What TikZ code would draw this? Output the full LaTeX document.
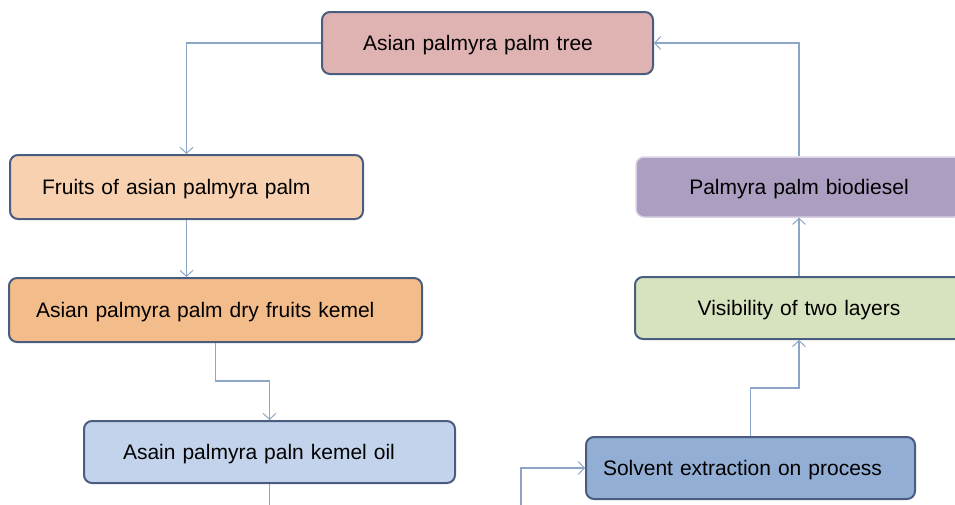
\documentclass[tikz,border=0pt]{standalone}
\usepackage{fontspec}
\setmainfont{Liberation Sans}
\usetikzlibrary{arrows.meta,calc}
\definecolor{cTree}{HTML}{E0B3B3}
\definecolor{cFruit}{HTML}{F7D1B0}
\definecolor{cKernel}{HTML}{F3BC8B}
\definecolor{cOil}{HTML}{C3D3EB}
\definecolor{cSolv}{HTML}{93AED5}
\definecolor{cVis}{HTML}{D7E3BE}
\definecolor{cBio}{HTML}{AB9EC0}
\definecolor{cBioEdge}{HTML}{D9D1E4}
\definecolor{cEdge}{HTML}{4A5D7F}
\definecolor{cConn}{HTML}{8DA5C7}
\begin{document}
\begin{tikzpicture}[x=1pt,y=-1pt,
  box/.style={draw=cEdge, line width=2pt, rounded corners=8pt, inner ysep=0pt,
    text depth=0pt, font=\fontsize{21}{25}\selectfont, text=black},
  conn/.style={draw=cConn, line width=1.2pt, -{Straight Barb[length=6pt,width=13pt,line width=1pt]}}]
\useasboundingbox (0,0) rectangle (955,504);
\clip (0,0) rectangle (955,504);
\node[box, fill=cTree, minimum height=62pt, inner xsep=41pt, text width=249pt, align=left] (tree) at (487.5,43) {Asian palmyra palm tree};
\node[box, fill=cFruit, minimum height=64pt, inner xsep=32pt, text width=289pt, align=left] (fruits) at (186.5,187) {Fruits of asian palmyra palm};
\node[box, fill=cKernel, minimum height=64pt, inner xsep=27pt, text width=359pt, align=left] (kernel) at (215.5,310) {Asian palmyra palm dry fruits kemel};
\node[box, fill=cOil, minimum height=62pt, inner xsep=39pt, text width=293pt, align=left] (oil) at (269.5,452) {Asain palmyra paln kemel oil};
\node[box, fill=cSolv, minimum height=62pt, inner xsep=17pt, text width=295pt, align=left] (solv) at (750.5,468) {Solvent extraction on process};
\node[box, fill=cVis, minimum height=62pt, inner xsep=0pt, text width=328pt, align=center] (vis) at (799,308) {Visibility of two layers};
\node[box, draw=cBioEdge, line width=1.5pt, fill=cBio, minimum height=60pt, inner xsep=0pt, text width=326pt, align=center] (bio) at (799,187) {Palmyra palm biodiesel};
\coordinate (mid1) at (0,381);
\coordinate (low) at (521,520);
\coordinate (mid2) at (0,388);
\draw[conn] (tree.west) -| (fruits.north);
\draw[conn] (fruits.south) -- (fruits.south |- kernel.north);
\draw[conn] (kernel.south) |- (mid1 -| oil.north) -- (oil.north);
\draw[conn] (oil.south) |- (low) |- (solv.west);
\draw[conn] (solv.north) |- (mid2 -| vis.south) -- (vis.south);
\draw[conn] (vis.north) -- (bio.south);
\draw[conn] (bio.north) |- (tree.east);
\end{tikzpicture}
\end{document}
